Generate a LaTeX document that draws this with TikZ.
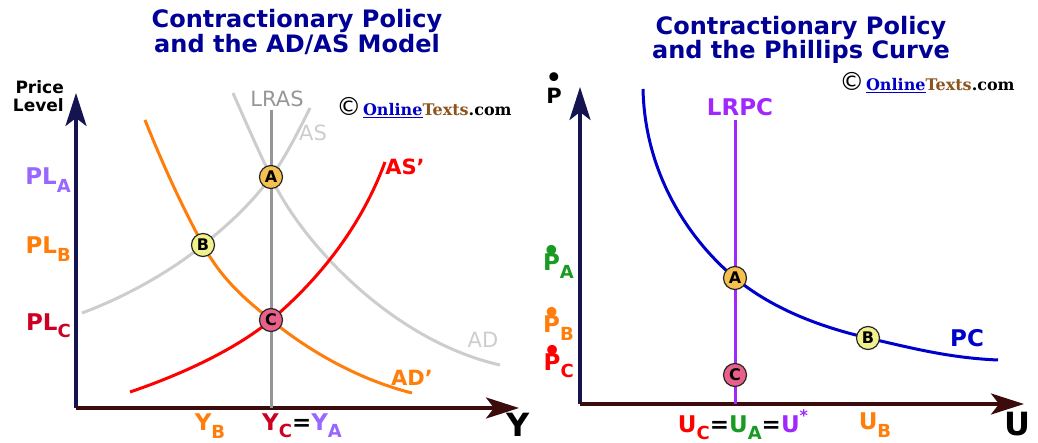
\documentclass[tikz,border=0pt]{standalone}
\usepackage{fontspec}
\setmainfont{DejaVu Sans}
\newfontfamily\creditfont{DejaVu Serif}
\usetikzlibrary{positioning, arrows.meta}

\definecolor{titleblue}{RGB}{0,0,150}
\definecolor{axisnavy}{RGB}{20,20,80}
\definecolor{axisbrown}{RGB}{60,12,12}
\definecolor{lavender}{RGB}{153,102,255}
\definecolor{plorange}{RGB}{255,125,10}
\definecolor{crimson}{RGB}{205,0,35}
\definecolor{lightgray}{RGB}{205,205,205}
\definecolor{midgray}{RGB}{150,150,150}
\definecolor{pgreen}{RGB}{25,155,35}
\definecolor{lrpurple}{RGB}{160,40,255}
\definecolor{pcblue}{RGB}{0,0,205}
\definecolor{linkblue}{RGB}{0,0,200}
\definecolor{textsbrown}{RGB}{140,85,30}
\definecolor{ptA}{RGB}{245,192,80}
\definecolor{ptB}{RGB}{240,240,140}
\definecolor{ptC}{RGB}{232,95,140}

\newcommand{\lowsub}[1]{\raisebox{-0.32em}{\fontsize{18}{18}\selectfont #1}}
\newcommand{\pdot}[1][0.43em]{\ooalign{P\cr\hidewidth\raisebox{#1}{\scalebox{1.2}{\textbullet}}\hidewidth\cr}}
\newcommand{\otcredit}{{\fontsize{25}{25}\selectfont\textcopyright}\,{\creditfont\bfseries\fontsize{16}{16}\selectfont\textcolor{linkblue}{\underline{Online}}\textcolor{textsbrown}{Texts}.com}}

\begin{document}
\begin{tikzpicture}[
    x=1pt,
    y=-1pt,
    every node/.style={inner sep=0pt},
    curve/.style={line width=3pt},
    axis/.style={line width=3.5pt, -{Stealth[length=33pt, width=21pt, inset=8pt]}},
    eqpt/.style={circle, draw=black!85, line width=1.2pt, minimum size=23pt, inner sep=0pt, font=\fontsize{16}{16}\selectfont\bfseries},
    lbl/.style={font=\fontsize{23}{23}\selectfont\bfseries},
    curve lbl/.style={font=\fontsize{21}{21}\selectfont},
    big lbl/.style={font=\fontsize{32}{32}\selectfont\bfseries},
    ttl/.style={font=\fontsize{24}{21}\selectfont\bfseries, text=titleblue, align=center}
]
\useasboundingbox (0,0) rectangle (1038,443);

%---------------- AD/AS panel ----------------
\node[ttl] (ttlL) at (297,32) {Contractionary Policy\\and the AD/AS Model};
\node (creditL) at (424,108) {\otcredit};

\coordinate (oL) at (76,408);
\coordinate (yL) at (76,93);
\coordinate (xL) at (519,408);
\draw[axis, axisnavy] (oL) -- (yL);
\draw[axis, axisbrown] (oL) -- (xL);
\node[font=\fontsize{17}{18}\selectfont\bfseries, align=right, anchor=east] (plev) at (64,96) {Price\\Level};
\node[big lbl] (ylab) at (518,425) {Y};

\coordinate (pA) at (271,177);
\coordinate (pB) at (203,245);
\coordinate (pC) at (271,320);

% curves
\draw[curve, lightgray] (82,313) .. controls (125,297) and (170,272) .. (pB)
    .. controls (228,225) and (250,205) .. (pA)
    .. controls (285,158) and (298,132) .. (310,108);
\draw[curve, lightgray] (233,93) .. controls (247,125) and (259,152) .. (pA)
    .. controls (300,240) and (390,340) .. (500,365);
\coordinate (lrTop) at (271,110);
\coordinate (lrBot) at (271,408);
\draw[curve, midgray] (lrTop) -- (lrBot);
\draw[curve, plorange] (145,120) .. controls (165,170) and (183,208) .. (pB)
    .. controls (223,282) and (250,303) .. (pC)
    .. controls (310,352) and (360,380) .. (412,393);
\draw[curve, red] (130,392) .. controls (180,375) and (235,350) .. (pC)
    .. controls (315,283) and (360,230) .. (385,162);

\node[curve lbl, text=midgray] (lrasL) at (277,99) {LRAS};
\node[curve lbl, text=lightgray] (asL) at (313,133) {AS};
\node[lbl, font=\fontsize{21}{21}\selectfont\bfseries, text=red] (as2L) at (405,167) {AS'};
\node[curve lbl, text=lightgray] (adL) at (483,340) {AD};
\node[lbl, font=\fontsize{21}{21}\selectfont\bfseries, text=plorange] (ad2L) at (412,378) {AD'};

\foreach \name/\y/\col/\sb in {plA/180/lavender/A, plB/249/plorange/B, plC/326/crimson/C} {
    \node[lbl, text=\col, anchor=east] (\name) at (71,\y) {PL\lowsub{\sb}};
}
\node[lbl, text=plorange] (yB) at (210,426) {Y\lowsub{B}};
\node[lbl] (yCA) at (302,426) {\textcolor{crimson}{Y\lowsub{C}}=\textcolor{lavender}{Y\lowsub{A}}};

\node[eqpt, fill=ptA] (A) at (pA) {A};
\node[eqpt, fill=ptB] (B) at (pB) {B};
\node[eqpt, fill=ptC] (C) at (pC) {C};

%---------------- Phillips curve panel ----------------
\node[ttl] (ttlR) at (801,40) {Contractionary Policy\\and the Phillips Curve};
\node (creditR) at (927,83) {\otcredit};

\coordinate (oR) at (580,404);
\coordinate (yR) at (580,87);
\coordinate (xR) at (1024,404);
\draw[axis, axisnavy] (oR) -- (yR);
\draw[axis, axisbrown] (oR) -- (xR);
\node[font=\fontsize{21}{21}\selectfont\bfseries] (pdotL) at (554,96) {\pdot[0.8em]};
\node[big lbl] (ulab) at (1017,424) {U};

\coordinate (qA) at (735,278);
\coordinate (qB) at (868,338);
\coordinate (qC) at (735,375);
\coordinate (lrpcTop) at (735,120);
\coordinate (lrpcBot) at (735,404);

% curves
\draw[curve, lrpurple] (lrpcTop) -- (lrpcBot);
\draw[curve, pcblue] (643,89) .. controls (645,180) and (695,245) .. (qA)
    .. controls (775,311) and (825,328) .. (qB)
    .. controls (911,348) and (950,358) .. (998,360);

\node[lbl, text=lrpurple] (lrpcL) at (740,107) {LRPC};
\node[lbl, text=pcblue] (pcL) at (967,338) {PC};

\foreach \name/\y/\col/\sb in {pdA/266/pgreen/A, pdB/328/plorange/B, pdC/366/red/C} {
    \node[lbl, text=\col, anchor=east] (\name) at (574,\y) {\pdot\lowsub{\sb}};
}
\node[lbl] (uCA) at (743,425) {\textcolor{red}{U\lowsub{C}}=\textcolor{pgreen}{U\lowsub{A}}=\textcolor{lrpurple}{U\raisebox{0.45em}{\fontsize{16}{16}\selectfont *}}};
\node[lbl, text=plorange] (uB) at (875,425) {U\lowsub{B}};

\node[eqpt, fill=ptA] (A2) at (qA) {A};
\node[eqpt, fill=ptB] (B2) at (qB) {B};
\node[eqpt, fill=ptC] (C2) at (qC) {C};
\end{tikzpicture}
\end{document}
